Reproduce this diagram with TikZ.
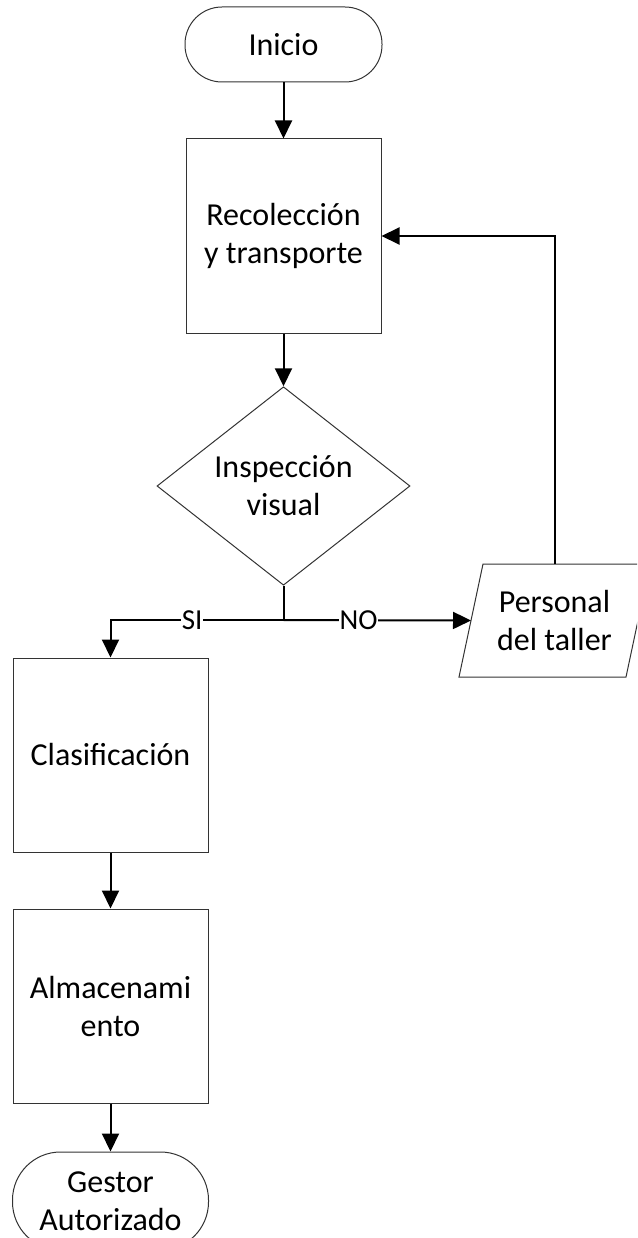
\documentclass[tikz,border=0pt]{standalone}
\usepackage{fontspec}
\setmainfont{Carlito}
\usetikzlibrary{shapes.geometric,arrows.meta,calc}
\newcommand\flowfont{\fontsize{32}{38}\selectfont}
\newcommand\labelfont{\fontsize{29}{34}\selectfont}

\begin{document}
\begin{tikzpicture}[x=1pt,y=-1pt,
  shapeline/.style={draw=black!80, line width=1pt},
  box/.style={shapeline, rectangle, minimum width=195pt, minimum height=194pt,
    align=center, inner sep=0pt, font=\flowfont},
  terminal/.style={shapeline, rectangle, rounded corners=37pt, minimum width=197pt,
    minimum height=75pt, align=center, inner sep=0pt, font=\flowfont},
  decision/.style={shapeline, diamond, minimum width=253pt, minimum height=192pt,
    align=center, inner sep=0pt, font=\flowfont},
  plain/.style={align=center, inner sep=0pt, font=\flowfont},
  flow/.style={draw=black, line width=2pt, -{Triangle[length=18pt,width=17pt]}},
  wire/.style={draw=black, line width=2pt},
  tag/.style={fill=white, inner sep=1pt, font=\labelfont}
]
\useasboundingbox (0,0) rectangle (637,1238);
\clip (0,0) rectangle (637,1238);

% process steps
\node[terminal] (inicio) at (283.5,44.5) {Inicio};
\node[box] (recol) at (283.5,236) {Recolección\\y transporte};
\node[decision] (insp) at (283.5,486) {Inspección\\visual};
\node[box] (clasif) at (110.5,755) {Clasificación};
\node[box] (almac) at (110.5,1006) {Almacenami\\ento};
\node[terminal, minimum height=98pt, minimum width=196pt, rounded corners=48pt]
  (gestor) at (110.5,1201) {Gestor\\Autorizado};

% input/output step (parallelogram)
\node[plain] (personal) at (554.5,620.5) {Personal\\del taller};
\coordinate (p-bl) at ($(personal.center)+(-95.5,56.5)$);
\coordinate (p-tl) at ($(personal.center)+(-71.5,-56.5)$);
\coordinate (p-tr) at ($(personal.center)+(95.5,-56.5)$);
\coordinate (p-br) at ($(personal.center)+(71.5,56.5)$);
\coordinate (p-w) at ($(personal.center)+(-83.5,0)$);
\coordinate (p-n) at ($(personal.center)+(0,-56.5)$);
\draw[shapeline] (p-bl) -- (p-tl) -- (p-tr) -- (p-br) -- cycle;

% connectors
\coordinate (junc) at (283.5,620);
\draw[flow] (inicio) -- (recol);
\draw[flow] (recol) -- (insp);
\draw[wire] (insp.south) -- (junc);
\draw[flow] (junc) -| node[tag, pos=0.264] {SI} (clasif.north);
\draw[flow] (junc) -- node[tag, pos=0.40] {NO} (p-w);
\draw[flow] (p-n) |- (recol.east);
\draw[flow] (clasif) -- (almac);
\draw[flow] (almac) -- (gestor);
\end{tikzpicture}
\end{document}
